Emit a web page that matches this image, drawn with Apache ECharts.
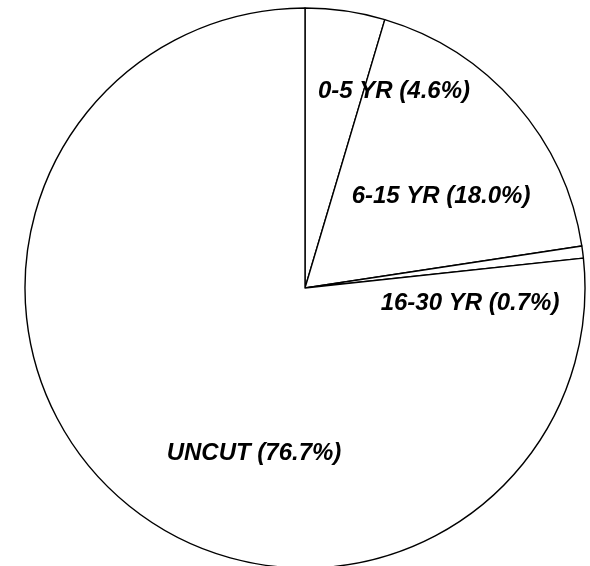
<!DOCTYPE html>
<html>
<head>
<meta charset="utf-8">
<script src="https://cdn.jsdelivr.net/npm/echarts@6/dist/echarts.min.js"></script>
<style>
  html, body { margin: 0; padding: 0; background: #fff; }
  #chart { width: 590px; height: 566px; }
</style>
</head>
<body>
<div id="chart"></div>
<script>
// Stand age classes and their share of the area (%)
const categories = ['0-5 YR', '6-15 YR', '16-30 YR', 'UNCUT'];
const shares = [4.6, 18.0, 0.7, 76.7];

// Where each class label sits (pixel centre of the text)
const labelSpots = [
  [394, 91],
  [441, 196],
  [470, 303],
  [254, 453]
];

const chart = echarts.init(document.getElementById('chart'), null, { renderer: 'canvas' });

chart.setOption({
  backgroundColor: '#ffffff',
  animation: false,
  series: [{
    type: 'pie',
    center: [305, 288],
    radius: 280,
    startAngle: 90,
    clockwise: true,
    avoidLabelOverlap: false,
    silent: true,
    data: categories.map((name, i) => ({ name, value: shares[i] })),
    itemStyle: {
      color: '#ffffff',
      borderColor: '#000000',
      borderWidth: 1.4
    },
    label: {
      show: true,
      position: 'inside',
      formatter: p => p.name + ' (' + p.value.toFixed(1) + '%)',
      fontFamily: 'Liberation Sans, Arial, sans-serif',
      fontStyle: 'italic',
      fontWeight: 'bold',
      fontSize: 24,
      color: '#000000'
    },
    labelLine: { show: false },
    labelLayout: params => ({
      x: labelSpots[params.dataIndex][0],
      y: labelSpots[params.dataIndex][1],
      align: 'center',
      verticalAlign: 'middle'
    }),
    emphasis: { disabled: true }
  }]
});
</script>
</body>
</html>
